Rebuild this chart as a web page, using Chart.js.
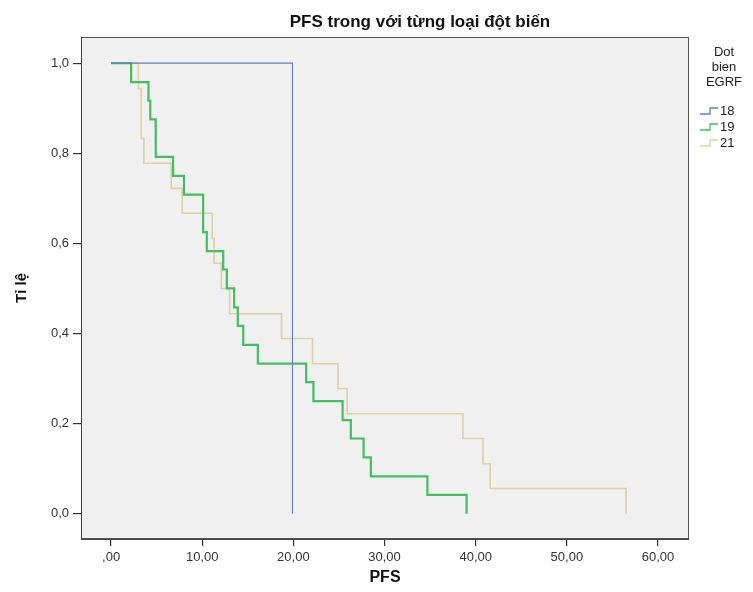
<!DOCTYPE html>
<html>
<head>
<meta charset="utf-8">
<script src="https://cdn.jsdelivr.net/npm/chart.js@4.4.1/dist/chart.umd.min.js"></script>
<style>
  html, body { margin: 0; padding: 0; background: #fff; }
</style>
</head>
<body>
<canvas id="myChart" width="753" height="592"></canvas>
<script>
// nhom dot bien
const groups = ['18', '19', '21'];

// thoi gian (PFS) va ti le song con theo tung nhom
const times18 = [0, 19.9];
const surv18 = [1, 0];

const times19 = [0, 2.2, 4.1, 4.3, 4.9, 6.8, 8.0, 10.1, 10.5, 12.3, 12.7, 13.5, 13.9, 14.5, 16.1, 21.4, 22.2, 25.4, 26.3, 27.7, 28.5, 34.7, 39.0];
const surv19 = [1, .958, .917, .875, .792, .750, .708, .625, .583, .542, .500, .458, .417, .375, .333, .292, .250, .208, .167, .125, .083, .042, 0];

const times21 = [0, 3.0, 3.3, 3.6, 6.6, 7.8, 11.1, 11.3, 12.1, 13.0, 18.7, 22.1, 24.9, 25.9, 38.6, 40.8, 41.6, 56.5];
const surv21 = [1, .944, .833, .778, .722, .667, .611, .556, .500, .444, .389, .333, .278, .222, .167, .111, .056, 0];

const xTicks = [0, 10, 20, 30, 40, 50, 60];
const xTickLabels = [',00', '10,00', '20,00', '30,00', '40,00', '50,00', '60,00'];
const yTicks = [0, 0.2, 0.4, 0.6, 0.8, 1.0];
const yTickLabels = ['0,0', '0,2', '0,4', '0,6', '0,8', '1,0'];

const FONT = 'Arial, "Liberation Sans", Helvetica, sans-serif';

function pts(t, s) {
  return t.map((v, i) => ({ x: v, y: s[i] }));
}

// nen xam + khung cho vung ve
const plotFrame = {
  id: 'plotFrame',
  beforeDraw(chart) {
    const { ctx, chartArea: a } = chart;
    ctx.save();
    ctx.fillStyle = '#f0f0f0';
    ctx.fillRect(a.left, a.top, a.right - a.left, a.bottom - a.top);
    ctx.strokeStyle = '#555';
    ctx.lineWidth = 1;
    ctx.strokeRect(a.left + 0.5, a.top + 0.5, a.right - a.left - 1, a.bottom - a.top - 1);
    ctx.restore();
  }
};

// tieu de + chu thich ben phai
const titleLegend = {
  id: 'titleLegend',
  afterDraw(chart) {
    const ctx = chart.ctx;
    ctx.save();
    ctx.fillStyle = '#111';
    ctx.font = 'bold 17px ' + FONT;
    ctx.textAlign = 'center';
    ctx.textBaseline = 'middle';
    ctx.fillText('PFS trong với từng loại đột biến', 420, 22);

    ctx.font = '13px ' + FONT;
    ctx.fillStyle = '#222';
    ['Dot', 'bien', 'EGRF'].forEach((s, i) => ctx.fillText(s, 724, 52 + i * 15));

    chart.data.datasets.forEach((ds, i) => {
      const y = 111 + i * 16;
      ctx.strokeStyle = ds.borderColor;
      ctx.lineWidth = 1.3;
      ctx.beginPath();
      ctx.moveTo(700, y + 3);
      ctx.lineTo(710, y + 3);
      ctx.lineTo(710, y - 3);
      ctx.lineTo(718, y - 3);
      ctx.stroke();
      ctx.fillStyle = '#222';
      ctx.textAlign = 'left';
      ctx.fillText(ds.label, 720, y);
    });
    ctx.restore();
  }
};

const ctx = document.getElementById('myChart').getContext('2d');
const myChart = new Chart(ctx, {
  type: 'line',
  data: {
    datasets: [
      { label: groups[0], data: pts(times18, surv18), borderColor: '#6f7bc2', borderWidth: 1.2 },
      { label: groups[1], data: pts(times19, surv19), borderColor: '#45bd60', borderWidth: 2.2 },
      { label: groups[2], data: pts(times21, surv21), borderColor: '#d8d2a4', borderWidth: 1.6 }
    ]
  },
  options: {
    responsive: false,
    animation: false,
    elements: { point: { radius: 0 }, line: { stepped: true, tension: 0 } },
    layout: { padding: { top: 37, right: 64, left: 0, bottom: 0 } },
    plugins: { legend: { display: false }, title: { display: false }, tooltip: { enabled: false } },
    scales: {
      x: {
        type: 'linear',
        min: -3.3,
        max: 63.4,
        afterFit(scale) { scale.height = 53; },
        afterBuildTicks(scale) { scale.ticks = xTicks.map(v => ({ value: v })); },
        ticks: {
          padding: 4,
          color: '#333',
          font: { family: FONT, size: 13 },
          maxRotation: 0,
          callback: (v, i) => xTickLabels[i]
        },
        grid: { drawOnChartArea: false, drawTicks: true, tickLength: 7, color: '#333', lineWidth: 1.2 },
        border: { display: true, color: '#444' },
        title: { display: true, text: 'PFS', color: '#111', font: { family: FONT, size: 16, weight: 'bold' }, padding: { top: 0, bottom: 5 } }
      },
      y: {
        type: 'linear',
        min: -0.056,
        max: 1.058,
        afterFit(scale) { scale.width = 81; },
        afterBuildTicks(scale) { scale.ticks = yTicks.map(v => ({ value: v })); },
        ticks: {
          padding: 4,
          color: '#333',
          font: { family: FONT, size: 13 },
          callback: (v, i) => yTickLabels[i]
        },
        grid: { drawOnChartArea: false, drawTicks: true, tickLength: 8, color: '#333', lineWidth: 1.2 },
        border: { display: true, color: '#444' },
        title: { display: true, text: 'Tỉ lệ', color: '#111', font: { family: FONT, size: 15, weight: 'bold' }, padding: { top: 13, bottom: 0 } }
      }
    }
  },
  plugins: [plotFrame, titleLegend]
});
</script>
</body>
</html>
